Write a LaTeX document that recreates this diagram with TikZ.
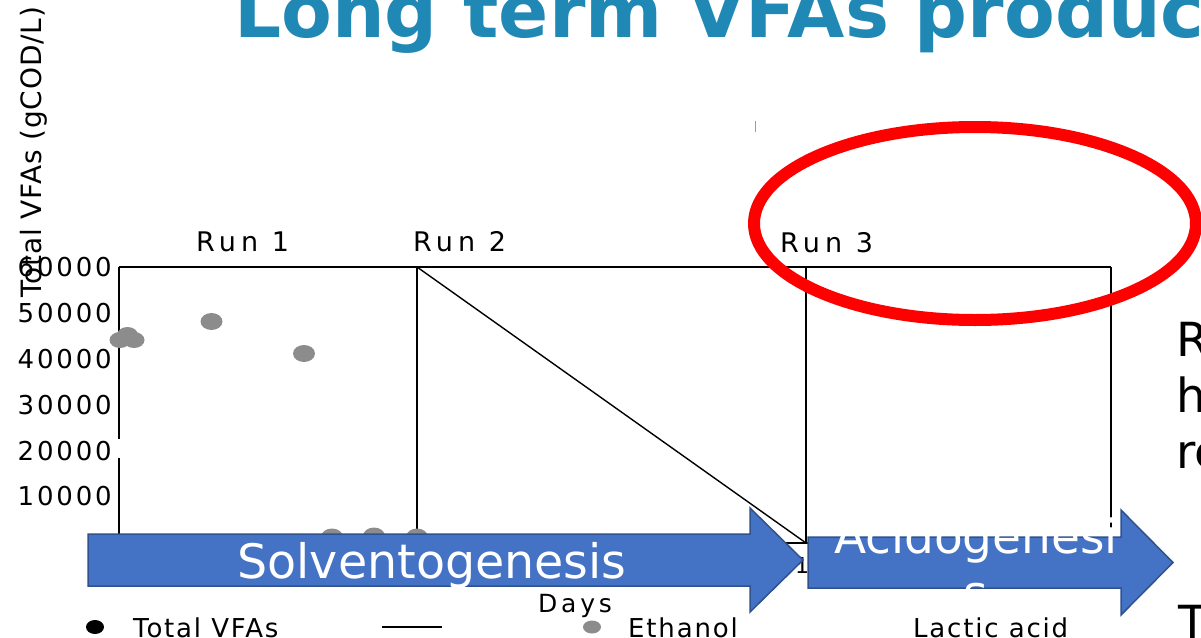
\documentclass[tikz,border=0pt]{standalone}
\usepackage{fontspec}
\setmainfont{DejaVu Sans}
\newfontfamily\tickfont{DejaVu Sans}[LetterSpace=11]
\newfontfamily\runfont{DejaVu Sans}[LetterSpace=19]
\newfontfamily\legfont{DejaVu Sans}[LetterSpace=7]
\newfontfamily\daysfont{DejaVu Sans}[LetterSpace=15]
\newfontfamily\axfont{DejaVu Sans}[LetterSpace=3]
\newfontfamily\plainfont{DejaVu Sans}
\definecolor{ttl}{RGB}{31,136,180}
\definecolor{arrfill}{RGB}{68,114,196}
\definecolor{arrdraw}{RGB}{47,82,143}
\definecolor{eth}{RGB}{140,140,140}
\definecolor{tick}{RGB}{240,120,120}
\tikzset{
  frame/.style={black, line width=2pt},
  thinline/.style={black, line width=1.4pt},
  dotE/.style={fill=eth},
  arrowshape/.style={fill=arrfill, draw=arrdraw, line width=1.5pt, line join=miter},
  ticklab/.style={anchor=east, inner sep=0pt, font=\tickfont\fontsize{26}{30}\selectfont},
  runlab/.style={anchor=base west, inner sep=0pt, font=\runfont\fontsize{27}{32}\selectfont},
  leglab/.style={anchor=base west, inner sep=0pt, font=\legfont\fontsize{26}{30}\selectfont},
  bigwhite/.style={anchor=base, inner sep=0pt, text=white, font=\plainfont\fontsize{47.5}{56}\selectfont},
  sidetext/.style={anchor=base west, inner sep=0pt, font=\plainfont\fontsize{47}{56}\selectfont}
}
\begin{document}
\begin{tikzpicture}[x=1pt,y=-1pt]
\useasboundingbox (0,0) rectangle (1201,637);
\clip (0,0) rectangle (1201,637);

% title
\node[anchor=base west, inner sep=0pt, text=ttl, font=\plainfont\bfseries\fontsize{74}{80}\selectfont] (title) at (234,37) {Long term VFAs produc};

% y axis title
\node[rotate=90, anchor=base west, inner sep=0pt, font=\axfont\fontsize{28}{32}\selectfont] (ytitle) at (41,298) {Total VFAs (gCOD/L)};

% frame coordinates
\coordinate (tl) at (119,267);
\coordinate (bl) at (119,543);
\coordinate (tr) at (1111,267);
\coordinate (br) at (1111,543);
\coordinate (t2) at (417,267);
\coordinate (b2) at (417,543);
\coordinate (t3) at (806,267);
\coordinate (b3) at (806,543);
\coordinate (gapA) at (119,439);
\coordinate (gapB) at (119,458);

\draw[frame] (tl) -- (tr);
\draw[frame] (tl) -- (gapA);
\draw[frame] (gapB) -- (bl);
\draw[frame] (bl) -- (br);
\draw[frame] (t2) -- (b2);
\draw[frame] (t3) -- (b3);
\draw[frame] (tr) -- (br);
\draw[thinline] (t2) -- (b3);

% tick labels
\node[ticklab] (y60) at (112,267.5) {60000};
\node[ticklab] (y50) at (112,313.5) {50000};
\node[ticklab] (y40) at (112,359.5) {40000};
\node[ticklab] (y30) at (112,405) {30000};
\node[ticklab] (y20) at (112,451) {20000};
\node[ticklab] (y10) at (112,496.5) {10000};

% run labels
\node[runlab] (run1) at (196,251) {Run 1};
\node[runlab] (run2) at (413,251) {Run 2};
\node[runlab] (run3) at (780,252) {Run 3};

% ethanol points
\fill[dotE] (120,340) ellipse [x radius=10.5pt, y radius=8pt];
\fill[dotE] (127.5,335) ellipse [x radius=10.5pt, y radius=8pt];
\fill[dotE] (134,340) ellipse [x radius=10.5pt, y radius=8pt];
\fill[dotE] (211.5,321.5) ellipse [x radius=11pt, y radius=8.5pt];
\fill[dotE] (304,353.5) ellipse [x radius=11pt, y radius=8.5pt];
\fill[dotE] (332,537) ellipse [x radius=11pt, y radius=8.5pt];
\fill[dotE] (374,536) ellipse [x radius=11pt, y radius=8.5pt];
\fill[dotE] (417,537) ellipse [x radius=11pt, y radius=8.5pt];

% x tick label partly hidden
\node[anchor=base, inner sep=0pt, font=\plainfont\fontsize{22}{26}\selectfont] (x1) at (802,573) {1};

% process arrows
\draw[arrowshape] (88,534) -- (750,534) -- (750,508) -- (803,560) -- (750,612) -- (750,586) -- (88,586) -- cycle;
\draw[arrowshape] (808,537) -- (1121,537) -- (1121,510) -- (1173,562.5) -- (1121,615) -- (1121,588) -- (808,588) -- cycle;
\node[bigwhite] (solv) at (432,578) {Solventogenesis};
\node[bigwhite, font=\plainfont\fontsize{47}{56}\selectfont] (acid1) at (976,553) {Acidogenesi};
\node[bigwhite, font=\plainfont\fontsize{47}{56}\selectfont] (acid2) at (976,609) {s};

% days
\node[anchor=base west, inner sep=0pt, font=\daysfont\fontsize{25}{29}\selectfont] (days) at (538,612) {Days};

% legend
\fill (95,627) ellipse [x radius=9pt, y radius=7pt];
\node[leglab] (lg1) at (133,637) {Total VFAs};
\coordinate (lnA) at (382,627);
\coordinate (lnB) at (442,627);
\draw[thinline] (lnA) -- (lnB);
\fill[dotE] (592,627) ellipse [x radius=9pt, y radius=6.5pt];
\node[leglab] (lg2) at (628,637) {Ethanol};
\node[leglab] (lg3) at (913,637) {Lactic acid};

% red highlight
\draw[red, line width=12pt] (975,223.5) ellipse [x radius=221pt, y radius=96.5pt];
\coordinate (rtA) at (755,121);
\coordinate (rtB) at (755,132);
\draw[tick, line width=1pt] (rtA) -- (rtB);

% side text (cut off)
\node[sidetext] (s1) at (1176,356) {R};
\node[sidetext] (s2) at (1176,412) {h};
\node[sidetext] (s3) at (1176,468) {re};
\node[sidetext] (s4) at (1178,639) {T};
\end{tikzpicture}
\end{document}
